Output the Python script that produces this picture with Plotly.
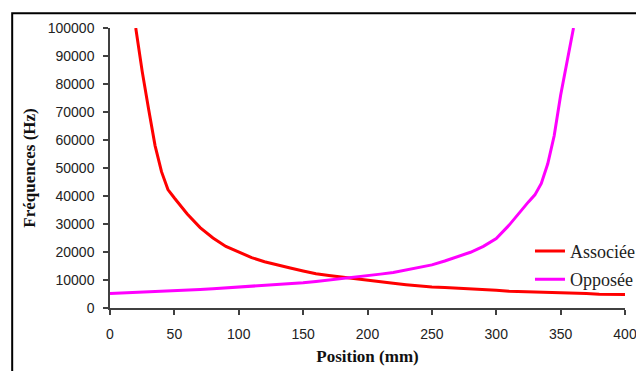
import plotly.graph_objects as go

# Associée (red)
assoc_x = [20, 25, 30, 35, 40, 45, 50, 55, 60, 70, 80, 90, 100, 110, 120, 130, 140, 150, 160, 170, 180, 190, 200,
           210, 220, 230, 240, 250, 260, 270, 280, 290, 300, 310, 320, 330, 340, 350, 360, 370, 380, 390, 400]
assoc_y = [100000, 84500, 71000, 58000, 48700, 42300, 39300, 36400, 33600, 28700, 25000, 22000, 19900, 18000,
           16500, 15300, 14300, 13200, 12200, 11600, 11000, 10500, 9900, 9300, 8800, 8300, 7800, 7500, 7300,
           7100, 6900, 6600, 6300, 6000, 5900, 5700, 5600, 5500, 5400, 5200, 4900, 4800, 4800]

# Opposée (magenta)
oppo_x = [0, 10, 20, 30, 40, 50, 60, 70, 80, 90, 100, 110, 120, 130, 140, 150, 160, 170, 180, 190,
          200, 210, 220, 230, 240, 250, 260, 270, 280, 290, 300, 310, 320, 325, 330, 335, 340, 345, 350, 355, 360]
oppo_y = [5200, 5400, 5500, 5700, 5900, 6000, 6300, 6600, 6900, 7200, 7500, 7700, 7900, 8200, 8500,
          9000, 9500, 10000, 10500, 10900, 11500, 12100, 12700, 13600, 14500, 15400, 16800, 18300,
          19900, 22000, 24800, 29600, 35400, 37900, 40400, 44500, 51500, 61500, 76000, 88000, 100000]

x_ticks = [0, 50, 100, 150, 200, 250, 300, 350, 400]
y_ticks = [0, 10000, 20000, 30000, 40000, 50000, 60000, 70000, 80000, 90000, 100000]

fig = go.Figure()
fig.add_trace(go.Scatter(x=assoc_x, y=assoc_y, mode="lines", name="Associée",
                         line=dict(color="#FF0000", width=3), legendgroup="a"))
fig.add_trace(go.Scatter(x=oppo_x, y=oppo_y, mode="lines", name="Opposée",
                         line=dict(color="#FF00FF", width=3), legendgroup="b"))

axis_common = dict(showgrid=False, zeroline=False, showline=True, linecolor="#404040", linewidth=1.5,
                   ticks="outside", ticklen=5, tickcolor="#404040", tickwidth=1.5,
                   tickfont=dict(family="Liberation Sans", size=14, color="#222222"))

# figure is placed 8px from the page corner; plot area spans fx 102..618, fy 16..300
PW, PH = 516, 284
L, T = 102, 16

fig.update_layout(
    width=644, height=371,
    margin=dict(l=L, r=644 - L - PW, t=T, b=371 - T - PH),
    paper_bgcolor="white", plot_bgcolor="white",
    showlegend=True,
    legend=dict(x=0.8155, y=0.269, xanchor="left", yanchor="top", bgcolor="rgba(0,0,0,0)",
                font=dict(family="Liberation Serif", size=18, color="#222222"),
                traceorder="grouped", tracegroupgap=2),
    xaxis=dict(range=[0, 400], tickvals=x_ticks, ticktext=[str(v) for v in x_ticks],
               title=dict(text="<b>Position (mm)</b>", standoff=10,
                          font=dict(family="Liberation Serif", size=17, color="#111111")),
               ticklabelstandoff=7, **axis_common),
    yaxis=dict(range=[0, 100000], tickvals=y_ticks, ticktext=[str(v) for v in y_ticks],
               title=dict(text="<b>Fréquences (Hz)</b>", standoff=8,
                          font=dict(family="Liberation Serif", size=17, color="#111111")),
               ticklabelstandoff=6, **axis_common),
    shapes=[dict(type="rect", xref="paper", yref="paper",
                 x0=(4 - L) / PW, x1=(700 - L) / PW,
                 y0=(T + PH - 400) / PH, y1=(T + PH - 1) / PH,
                 line=dict(color="black", width=2), fillcolor="rgba(0,0,0,0)", layer="below")],
)

fig.write_html("out.html")
